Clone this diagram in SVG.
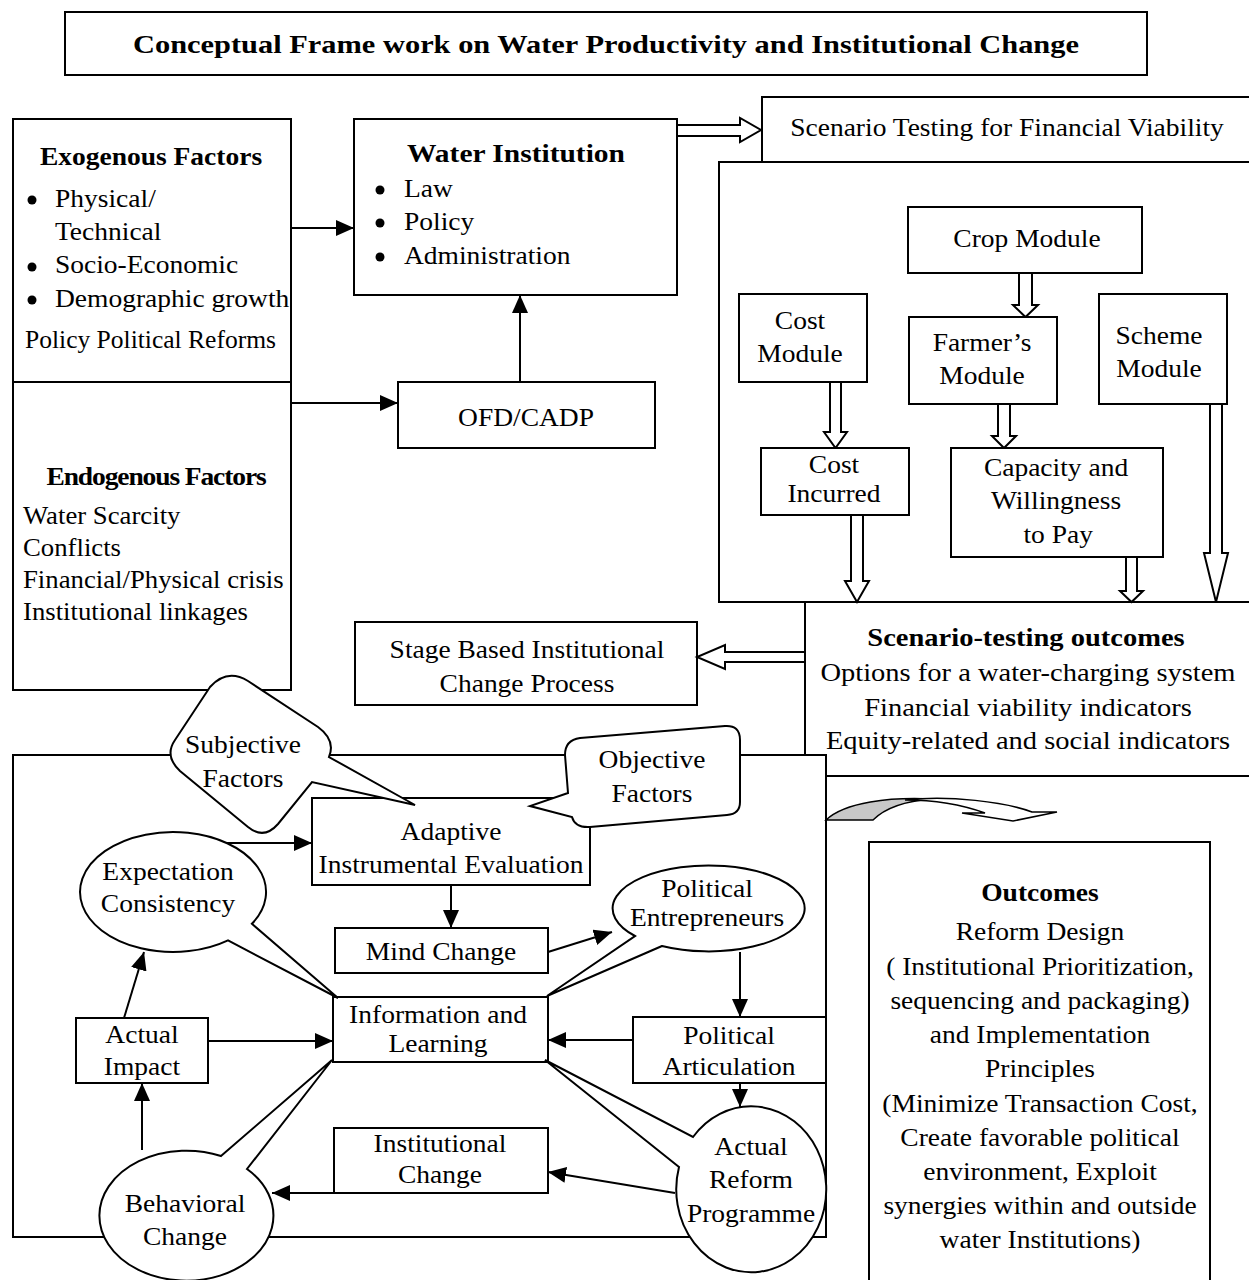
<svg xmlns="http://www.w3.org/2000/svg" width="1249" height="1280" viewBox="0 0 1249 1280">
<style>
.box{fill:#fff;stroke:#000;stroke-width:2}
.t{font-family:"Liberation Serif","Times New Roman",serif;font-size:25px;fill:#000}
.c{text-anchor:middle}
.b{font-weight:bold}
.ln{stroke:#000;stroke-width:2;fill:none}
.ha{fill:#fff;stroke:#000;stroke-width:2;stroke-linejoin:miter}
.dot{fill:#000}
</style>
<defs>
<marker id="ah" markerUnits="userSpaceOnUse" markerWidth="18" markerHeight="16" refX="18" refY="8" orient="auto">
<path d="M0,0 L18,8 L0,16 Z" fill="#000"/>
</marker>
</defs>
<rect width="1249" height="1280" fill="#fff"/>

<g id="title">
<rect class="box" x="65" y="12" width="1082" height="63"/>
<text class="t c b" transform="translate(606 53) scale(1.17 1)" style="font-size:26px">Conceptual Frame work on Water Productivity and Institutional Change</text>
</g>

<g id="factors">
<rect class="box" x="13" y="119" width="278" height="571"/>
<line class="ln" x1="13" y1="382" x2="291" y2="382"/>
</g>
<g id="exogenous">
<text class="t c b" transform="translate(151 165) scale(1.1 1)">Exogenous  Factors</text>
<circle class="dot" cx="32" cy="200" r="4.5"/>
<circle class="dot" cx="32" cy="267" r="4.5"/>
<circle class="dot" cx="32" cy="300" r="4.5"/>
<text class="t" transform="translate(55 207) scale(1.1 1)"><tspan x="0">Physical/</tspan><tspan x="0" dy="33">Technical</tspan><tspan x="0" dy="33">Socio-Economic</tspan><tspan x="0" dy="34">Demographic growth</tspan></text>
<text class="t" x="25" y="348" textLength="251" lengthAdjust="spacingAndGlyphs">Policy Political Reforms</text>
</g>
<g id="endogenous">
<text class="t c b" transform="translate(156 485) scale(1.1 1)" style="letter-spacing:-1px">Endogenous Factors</text>
<text class="t" transform="translate(23 524) scale(1.07 1)"><tspan x="0">Water Scarcity</tspan><tspan x="0" dy="32">Conflicts</tspan><tspan x="0" dy="32">Financial/Physical crisis</tspan><tspan x="0" dy="32">Institutional linkages</tspan></text>
</g>

<g id="water-institution">
<rect class="box" x="354" y="119" width="323" height="176"/>
<text class="t b" x="407" y="162" textLength="218" lengthAdjust="spacingAndGlyphs">Water  Institution</text>
<circle class="dot" cx="380" cy="190" r="4.5"/>
<circle class="dot" cx="380" cy="223" r="4.5"/>
<circle class="dot" cx="380" cy="257" r="4.5"/>
<text class="t" transform="translate(404 197) scale(1.1 1)"><tspan x="0">Law</tspan><tspan x="0" dy="33">Policy</tspan><tspan x="0" dy="34">Administration</tspan></text>
</g>

<g id="ofd">
<rect class="box" x="398" y="382" width="257" height="66"/>
<text class="t c" transform="translate(526 426) scale(1.1 1)">OFD/CADP</text>
</g>

<g id="scenario-testing">
<rect class="box" x="762" y="97" width="500" height="65"/>
<text class="t c" transform="translate(1007 136) scale(1.1 1)">Scenario Testing for Financial Viability</text>
</g>

<g id="modules-frame">
<rect class="box" x="719" y="162" width="543" height="440"/>
</g>

<g id="outcomes-frame">
<rect class="box" x="805" y="602" width="457" height="174"/>
<text class="t c b" transform="translate(1026 646) scale(1.14 1)">Scenario-testing outcomes</text>
<text class="t c" transform="translate(1028 681) scale(1.14 1)"><tspan x="0">Options for a water-charging system</tspan><tspan x="0" dy="35">Financial viability indicators</tspan><tspan x="0" dy="33">Equity-related and social indicators</tspan></text>
</g>

<g id="stage-based">
<rect class="box" x="355" y="622" width="342" height="83"/>
<text class="t c" transform="translate(527 658) scale(1.1 1)"><tspan x="0">Stage Based Institutional</tspan><tspan x="0" dy="34">Change  Process</tspan></text>
</g>

<g id="lower-frame">
<rect class="box" x="13" y="755" width="813" height="482"/>
</g>

<g id="final-outcomes">
<rect class="box" x="869" y="842" width="341" height="450"/>
<text class="t c b" transform="translate(1040 901) scale(1.1 1)">Outcomes</text>
<text class="t c" transform="translate(1040 940) scale(1.1 1)"><tspan x="0">Reform Design</tspan><tspan x="0" dy="35">( Institutional Prioritization,</tspan><tspan x="0" dy="34">sequencing and packaging)</tspan><tspan x="0" dy="34">and Implementation</tspan><tspan x="0" dy="34">Principles</tspan><tspan x="0" dy="35">(Minimize Transaction Cost,</tspan><tspan x="0" dy="34">Create favorable political</tspan><tspan x="0" dy="34">environment, Exploit</tspan><tspan x="0" dy="34">synergies within and outside</tspan><tspan x="0" dy="34">water  Institutions)</tspan></text>
</g>

<g id="connectors">
<line class="ln" x1="291" y1="228" x2="354" y2="228" marker-end="url(#ah)"/>
<line class="ln" x1="291" y1="403" x2="398" y2="403" marker-end="url(#ah)"/>
<line class="ln" x1="520" y1="382" x2="520" y2="295" marker-end="url(#ah)"/>
<polygon class="ha" points="677,125 740,125 740,118 761,130 740,142 740,136 677,136"/>
<polygon class="ha" points="1019,273 1032,273 1032,305 1038,305 1025.5,317 1013,305 1019,305"/>
<polygon class="ha" points="830,382 841,382 841,432 847,432 835.5,448 824,432 830,432"/>
<polygon class="ha" points="998,404 1010,404 1010,436 1016,436 1004,448 992,436 998,436"/>
<polygon class="ha" points="851,515 863,515 863,581 869,581 857,602 845,581 851,581"/>
<polygon class="ha" points="1126,557 1137,557 1137,591 1143,591 1131.5,602 1120,591 1126,591"/>
<polygon class="ha" points="1210,404 1222,404 1222,553 1228,553 1216,602 1204,553 1210,553"/>
<polygon class="ha" points="805,652 725,652 725,645 697,657 725,669 725,662 805,662"/>
<path d="M826,820 C845,802 890,797 932,799 C905,801 885,808 873,820 Z" fill="#c8c8c8" stroke="#000" stroke-width="1.5"/>
<path d="M905,800 C950,795 1005,802 1032,812 L1057,812 L1013,821 L962,813 L985,813 C960,804 935,800 905,800 Z" fill="#fff" stroke="#000" stroke-width="1.5"/>
<line class="ln" x1="227" y1="843" x2="312" y2="843" marker-end="url(#ah)"/>
<line class="ln" x1="451" y1="885" x2="451" y2="928" marker-end="url(#ah)"/>
<line class="ln" x1="548" y1="952" x2="612" y2="932" marker-end="url(#ah)"/>
<line class="ln" x1="740" y1="952" x2="740" y2="1017" marker-end="url(#ah)"/>
<line class="ln" x1="633" y1="1040" x2="548" y2="1040" marker-end="url(#ah)"/>
<line class="ln" x1="208" y1="1041" x2="333" y2="1041" marker-end="url(#ah)"/>
<line class="ln" x1="124" y1="1018" x2="144" y2="952" marker-end="url(#ah)"/>
<line class="ln" x1="142" y1="1150" x2="142" y2="1083" marker-end="url(#ah)"/>
<line class="ln" x1="740" y1="1083" x2="740" y2="1107" marker-end="url(#ah)"/>
<line class="ln" x1="675" y1="1193" x2="548" y2="1172" marker-end="url(#ah)"/>
<line class="ln" x1="334" y1="1193" x2="272" y2="1193" marker-end="url(#ah)"/>
</g>

<g id="crop-module">
<rect class="box" x="908" y="207" width="234" height="66"/>
<text class="t c" transform="translate(1027 247) scale(1.1 1)">Crop Module</text>
</g>
<g id="cost-module">
<rect class="box" x="739" y="294" width="128" height="88"/>
<text class="t c" transform="translate(800 329) scale(1.1 1)"><tspan x="0">Cost</tspan><tspan x="0" dy="33">Module</tspan></text>
</g>
<g id="farmers-module">
<rect class="box" x="909" y="317" width="148" height="87"/>
<text class="t c" transform="translate(982 351) scale(1.1 1)"><tspan x="0">Farmer’s</tspan><tspan x="0" dy="33">Module</tspan></text>
</g>
<g id="scheme-module">
<rect class="box" x="1099" y="294" width="128" height="110"/>
<text class="t c" transform="translate(1159 344) scale(1.1 1)"><tspan x="0">Scheme</tspan><tspan x="0" dy="33">Module</tspan></text>
</g>
<g id="cost-incurred">
<rect class="box" x="761" y="448" width="148" height="67"/>
<text class="t c" transform="translate(834 473) scale(1.1 1)"><tspan x="0">Cost</tspan><tspan x="0" dy="29">Incurred</tspan></text>
</g>
<g id="capacity">
<rect class="box" x="951" y="448" width="212" height="109"/>
<text class="t c" transform="translate(1056 476) scale(1.1 1)"><tspan x="0">Capacity and</tspan><tspan x="0" dy="33">Willingness</tspan><tspan x="2" dy="34">to Pay</tspan></text>
</g>

<g id="adaptive">
<rect class="box" x="312" y="798" width="278" height="87"/>
<text class="t c" transform="translate(451 840) scale(1.1 1)"><tspan x="0">Adaptive</tspan><tspan x="0" dy="33">Instrumental Evaluation</tspan></text>
</g>
<g id="subjective">
<path class="box" d="M210,687 Q227,668 248,681 L318,727 Q336,740 329,757 L415,805 L312,782 L278,824 Q264,840 248,827 L180,771 Q164,756 175,740 Z"/>
<text class="t c" transform="translate(243 753) scale(1.1 1)"><tspan x="0">Subjective</tspan><tspan x="0" dy="34">Factors</tspan></text>
</g>
<g id="objective">
<path class="box" d="M580,738 L725,726 Q740,725 740,740 L740,802 Q740,814 727,815 L590,827 Q575,828 572,817 L530,806 L568,793 L565,755 Q565,740 580,738 Z"/>
<text class="t c" transform="translate(652 768) scale(1.1 1)"><tspan x="0">Objective</tspan><tspan x="0" dy="34">Factors</tspan></text>
</g>
<g id="mind-change">
<rect class="box" x="335" y="928" width="213" height="45"/>
<text class="t c" transform="translate(441 960) scale(1.1 1)">Mind Change</text>
</g>
<g id="information">
<rect class="box" x="333" y="997" width="215" height="65"/>
<text class="t c" transform="translate(438 1023) scale(1.1 1)"><tspan x="0">Information and</tspan><tspan x="0" dy="29">Learning</tspan></text>
</g>
<g id="actual-impact">
<rect class="box" x="76" y="1018" width="132" height="65"/>
<text class="t c" transform="translate(142 1043) scale(1.1 1)"><tspan x="0">Actual</tspan><tspan x="0" dy="32">Impact</tspan></text>
</g>
<g id="political-articulation">
<rect class="box" x="633" y="1017" width="193" height="66"/>
<text class="t c" transform="translate(729 1044) scale(1.1 1)"><tspan x="0">Political</tspan><tspan x="0" dy="31">Articulation</tspan></text>
</g>
<g id="institutional-change">
<rect class="box" x="334" y="1128" width="214" height="65"/>
<text class="t c" transform="translate(440 1152) scale(1.1 1)"><tspan x="0">Institutional</tspan><tspan x="0" dy="31">Change</tspan></text>
</g>
<g id="expectation">
<path class="box" d="M251.9,923.8 L338,998 L228,940.4 A93,60 0 1 1 251.9,923.8 Z"/>
<text class="t c" transform="translate(168 880) scale(1.1 1)"><tspan x="0">Expectation</tspan><tspan x="0" dy="32">Consistency</tspan></text>
</g>
<g id="political-entrepreneurs">
<path class="box" d="M662,946 L547,996 L635,936 A96,43 0 1 1 662,946 Z"/>
<text class="t c" transform="translate(707 897) scale(1.1 1)"><tspan x="0">Political</tspan><tspan x="0" dy="29">Entrepreneurs</tspan></text>
</g>
<g id="actual-reform">
<path class="box" d="M679,1167 L545,1060 L693,1137 A75,83 0 1 1 679,1167 Z"/>
<text class="t c" transform="translate(751 1155) scale(1.1 1)"><tspan x="0">Actual</tspan><tspan x="0" dy="33">Reform</tspan><tspan x="0" dy="34">Programme</tspan></text>
</g>
<g id="behavioral">
<path class="box" d="M221,1156 L332,1060 L247,1169 A87,65 0 1 1 221,1156 Z"/>
<text class="t c" transform="translate(185 1212) scale(1.1 1)"><tspan x="0">Behavioral</tspan><tspan x="0" dy="33">Change</tspan></text>
</g>
</svg>
